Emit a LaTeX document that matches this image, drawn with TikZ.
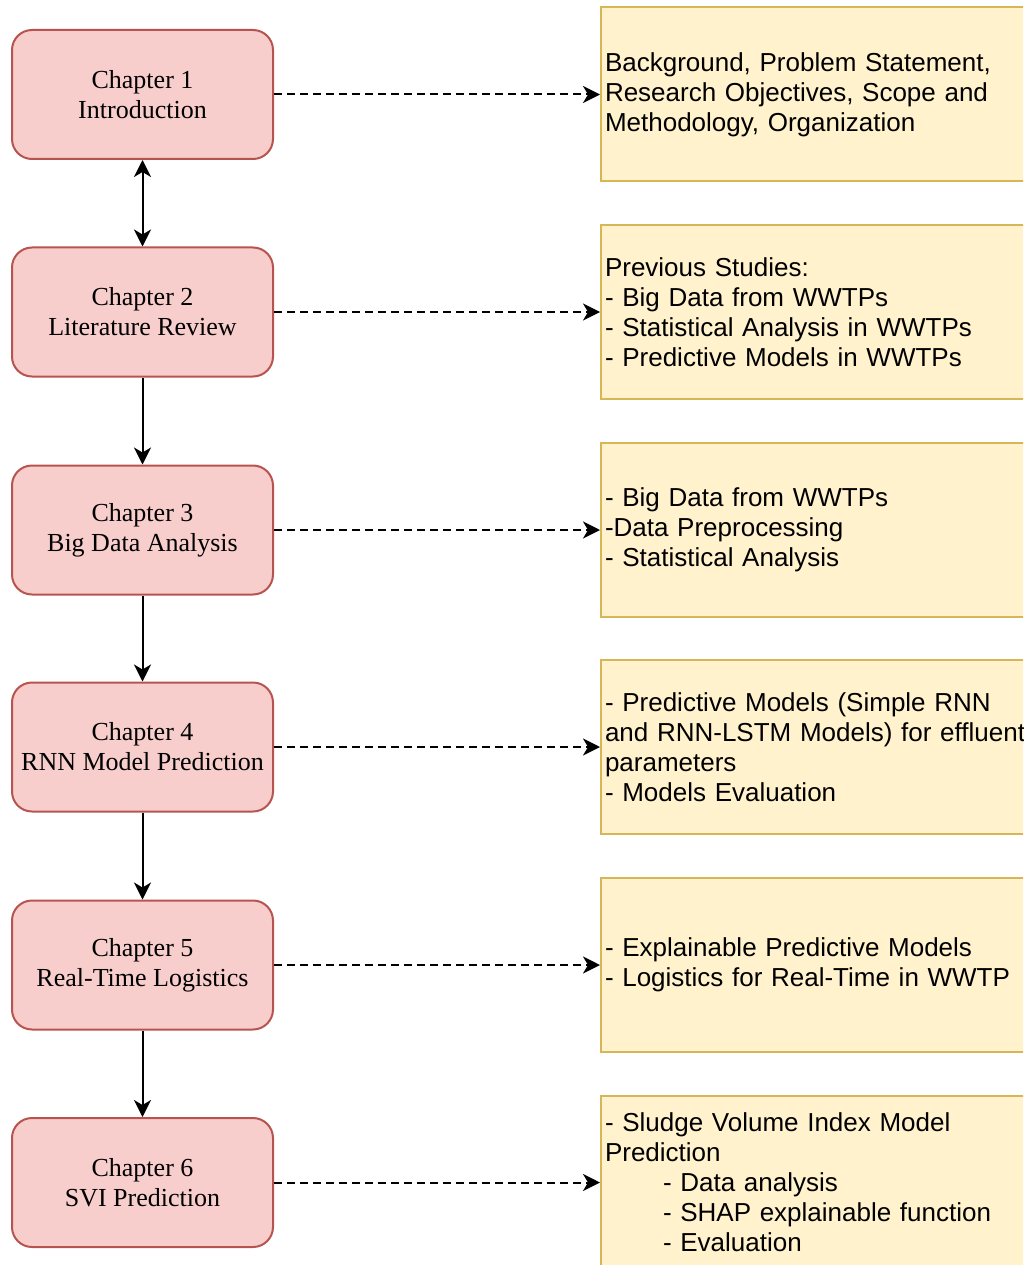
\documentclass[tikz,border=0pt]{standalone}
\usepackage{fontspec}
\setmainfont{Liberation Serif}
\newfontfamily\notesans{Liberation Sans}
\usetikzlibrary{arrows.meta}
\definecolor{chapfill}{HTML}{F8CECC}
\definecolor{chapline}{HTML}{B85450}
\definecolor{notefill}{HTML}{FFF2CC}
\definecolor{noteline}{HTML}{D6B656}
\begin{document}
\begin{tikzpicture}[x=1pt,y=-1pt,
  chapter/.style={draw=chapline, fill=chapfill, line width=2pt, rounded corners=20pt,
    minimum width=261pt, minimum height=129pt, inner sep=0pt, align=center,
    font=\fontsize{26}{30}\selectfont},
  note/.style={draw=noteline, fill=notefill, line width=2pt, minimum height=174pt,
    text width=422pt, inner xsep=4pt, inner ysep=0pt, align=left, anchor=west,
    font=\notesans\fontsize{26}{30}\selectfont},
  tip/.tip={Stealth[length=17pt,width=17pt,inset=5pt]},
  flow/.style={-tip, line width=2pt},
  twoway/.style={tip-tip, line width=2pt},
  link/.style={-tip, line width=2pt, dash pattern=on 8pt off 5pt}]
\useasboundingbox (0,0) rectangle (1023,1265);
\clip (0,0) rectangle (1023,1265);

% chapter boxes
\node[chapter] (c1) at (142.5,94.5) {Chapter 1\\Introduction};
\node[chapter] (c2) at (142.5,312) {Chapter 2\\Literature Review};
\node[chapter] (c3) at (142.5,530) {Chapter 3\\Big Data Analysis};
\node[chapter] (c4) at (142.5,747) {Chapter 4\\RNN Model Prediction};
\node[chapter] (c5) at (142.5,965) {Chapter 5\\Real-Time Logistics};
\node[chapter] (c6) at (142.5,1182.5) {Chapter 6\\SVI Prediction};

% content notes
\node[note] (n1) at (600,94.5) {Background, Problem Statement,\\Research Objectives, Scope and\\Methodology, Organization};
\node[note] (n2) at (600,312) {Previous Studies:\\- Big Data from WWTPs\\- Statistical Analysis in WWTPs\\- Predictive Models in WWTPs};
\node[note] (n3) at (600,530) {- Big Data from WWTPs\\-Data Preprocessing\\- Statistical Analysis};
\node[note] (n4) at (600,747) {- Predictive Models (Simple RNN\\and RNN-LSTM Models) for effluent\\parameters\\- Models Evaluation};
\node[note] (n5) at (600,965) {- Explainable Predictive Models\\- Logistics for Real-Time in WWTP};
\node[note] (n6) at (600,1182.5) {- Sludge Volume Index Model\\Prediction\\\hspace*{58pt}- Data analysis\\\hspace*{58pt}- SHAP explainable function\\\hspace*{58pt}- Evaluation};

% chapter sequence
\draw[twoway] (c1.south) -- (c2.north);
\draw[flow] (c2.south) -- (c3.north);
\draw[flow] (c3.south) -- (c4.north);
\draw[flow] (c4.south) -- (c5.north);
\draw[flow] (c5.south) -- (c6.north);

% chapter to content links
\foreach \i in {1,...,6}
  \draw[link] (c\i.east) -- (n\i.west);
\end{tikzpicture}
\end{document}
